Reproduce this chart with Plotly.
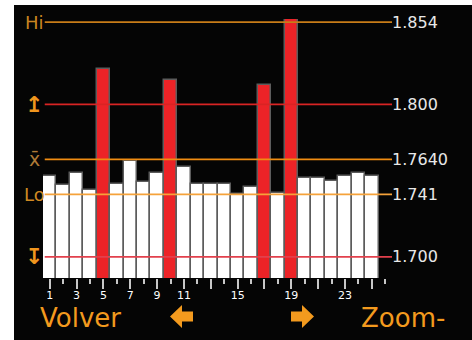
import plotly.graph_objects as go

# 数据
bar_index = list(range(1, 26))
bar_values = [1.753, 1.747, 1.755, 1.744, 1.823, 1.748, 1.763, 1.749, 1.755, 1.816,
              1.759, 1.748, 1.748, 1.748, 1.741, 1.746, 1.813, 1.742, 1.856, 1.752,
              1.752, 1.750, 1.753, 1.755, 1.753]
tick_vals = [1, 3, 5, 7, 9, 11, 13, 15, 17, 19, 21, 23, 25]
tick_text = ["1", "3", "5", "7", "9", "11", "", "15", "", "19", "", "23", ""]

limit_values = [1.854, 1.800, 1.7640, 1.741, 1.700]
limit_labels = ["1.854", "1.800", "1.7640", "1.741", "1.700"]
limit_symbols = ["Hi", "<b>↥</b>", "x̄", "Lo", "<b>↧</b>"]
limit_colors = ["#c97d18", "#d92424", "#f08c12", "#f5a23a", "#e2404c"]
symbol_colors = ["#c98420", "#f0961e", "#b07a36", "#d08a22", "#f0961e"]
symbol_sizes = [18, 22, 19, 18, 22]

upper_limit = limit_values[1]

W, H = 472, 340
ML, MR, MT, MB = 43, 80, 19, 62
PW, PH = W - ML - MR, H - MT - MB


def px_x(x):
    return (x - ML) / PW


def px_y(y):
    return (H - MB - y) / PH


def arrow_path(tip, back, end, cy):
    # 粗箭头，像素坐标转为 paper 坐标
    pts = [(tip, cy), (back, cy - 11.5), (back, cy - 5), (end, cy - 5),
           (end, cy + 5), (back, cy + 5), (back, cy + 11.5)]
    return "M " + " L ".join(f"{px_x(x):.4f},{px_y(y):.4f}" for x, y in pts) + " Z"


orange = "#f39a1e"
bar_colors = ["#ec2327" if v > upper_limit else "white" for v in bar_values]

fig = go.Figure()
fig.add_trace(go.Bar(
    x=bar_index, y=bar_values,
    marker=dict(color=bar_colors, line=dict(color="#5c5c5c", width=1.5)),
    width=1.0,
    hoverinfo="skip",
))

# 控制线
for v, lab, sym, c, sc, ss in zip(limit_values, limit_labels, limit_symbols,
                                  limit_colors, symbol_colors, symbol_sizes):
    fig.add_shape(type="line", xref="paper", yref="y", x0=0.005, x1=1, y0=v, y1=v,
                  line=dict(color=c, width=1.8), layer="above")
    fig.add_annotation(xref="paper", yref="y", x=1, y=v, text=lab, showarrow=False,
                       xanchor="left", yanchor="middle", xshift=-2,
                       font=dict(family="DejaVu Sans", size=16, color="#e8e8e8"))
    fig.add_annotation(xref="paper", yref="y", x=px_x(34), y=v, text=sym, showarrow=False,
                       xanchor="center", yanchor="middle",
                       font=dict(family="DejaVu Sans", size=ss, color=sc))

# 底部按钮
for txt, cx in [("Volver", 80), ("Zoom-", 403)]:
    fig.add_annotation(xref="paper", yref="paper", x=px_x(cx), y=px_y(318), text=txt,
                       showarrow=False, xanchor="center", yanchor="middle",
                       font=dict(family="DejaVu Sans", size=26, color=orange))

fig.add_shape(type="path", xref="paper", yref="paper", path=arrow_path(170, 182, 193, 316.5),
              fillcolor=orange, line=dict(width=0))
fig.add_shape(type="path", xref="paper", yref="paper", path=arrow_path(314, 302, 291, 316.5),
              fillcolor=orange, line=dict(width=0))

# 白边
fig.add_shape(type="rect", xref="paper", yref="paper", x0=px_x(0), x1=px_x(14),
              y0=px_y(H), y1=px_y(0), fillcolor="white", line=dict(width=0))
fig.add_shape(type="rect", xref="paper", yref="paper", x0=px_x(0), x1=px_x(W),
              y0=px_y(5), y1=px_y(0), fillcolor="white", line=dict(width=0))

fig.update_layout(
    width=W, height=H,
    margin=dict(l=ML, r=MR, t=MT, b=MB),
    paper_bgcolor="#050505",
    plot_bgcolor="#050505",
    showlegend=False,
    bargap=0,
)
fig.update_xaxes(range=[0.5, 26.5], tickmode="array", tickvals=tick_vals, ticktext=tick_text,
                 ticks="outside", ticklen=10, tickwidth=1.5, tickcolor="#c8c8c8",
                 minor=dict(ticks="outside", ticklen=5, tickwidth=1.5, tickcolor="#c8c8c8",
                            dtick=1, tick0=0),
                 tickfont=dict(family="DejaVu Sans", size=11, color="white"),
                 ticklabelstandoff=-3,
                 showgrid=False, zeroline=False, showline=False, automargin=False)
fig.update_yaxes(range=[1.6862, 1.856], visible=False, showgrid=False, automargin=False)

fig.write_html("out.html", config={"displayModeBar": False},
               post_script="document.body.style.margin='0';")
